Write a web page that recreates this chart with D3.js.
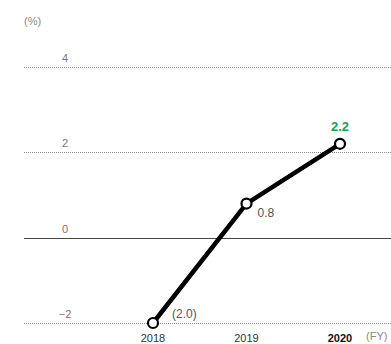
<!DOCTYPE html>
<html>
<head>
<meta charset="utf-8">
<script src="https://cdn.jsdelivr.net/npm/d3@7"></script>
<style>
  html, body { margin: 0; padding: 0; background: #fff; }
  svg { display: block; font-family: "Liberation Sans", Arial, sans-serif; }
</style>
</head>
<body>
<svg id="chart" width="391" height="344"></svg>
<script>
// Fiscal years and growth rate (%)
const years = ["2018", "2019", "2020"];
const values = [-2.0, 0.8, 2.2];
const valueLabels = ["(2.0)", "0.8", "2.2"];
const yTicks = [4, 2, 0, -2];
const yTickLabels = ["4", "2", "0", "\u22122"];

const svg = d3.select("#chart");
const W = 391;

const x = d3.scalePoint().domain(years).range([153, 340]);
const y = d3.scaleLinear().domain([-2, 4]).range([323, 67]);

// Gridlines (dotted) and the solid zero line
svg.append("g").selectAll("line")
  .data(yTicks)
  .join("line")
  .attr("x1", 24).attr("x2", W)
  .attr("y1", d => Math.round(y(d)) + 0.5)
  .attr("y2", d => Math.round(y(d)) + 0.5)
  .attr("stroke", d => d === 0 ? "#444" : "#8a8a8a")
  .attr("stroke-width", 1)
  .attr("stroke-dasharray", d => d === 0 ? null : "1,1");

// Y tick labels sit above their gridline
svg.append("g").selectAll("text")
  .data(yTicks)
  .join("text")
  .attr("x", 65)
  .attr("y", d => y(d) - 5)
  .attr("text-anchor", "middle")
  .attr("font-size", 11)
  .attr("fill", "#777")
  .text((d, i) => yTickLabels[i]);

svg.append("text")
  .attr("x", 24).attr("y", 25)
  .attr("font-size", 11)
  .attr("fill", "#888")
  .text("(%)");

// X labels
svg.append("g").selectAll("text")
  .data(years)
  .join("text")
  .attr("x", d => x(d))
  .attr("y", 342)
  .attr("text-anchor", "middle")
  .attr("font-size", 11)
  .attr("font-weight", (d, i) => i === years.length - 1 ? "bold" : "normal")
  .attr("fill", (d, i) => i === years.length - 1 ? "#111" : "#333")
  .text(d => d);

svg.append("text")
  .attr("x", 366).attr("y", 340)
  .attr("font-size", 11)
  .attr("fill", "#888")
  .text("(FY)");

// Line
const pts = years.map((yr, i) => ({ yr, v: values[i], label: valueLabels[i] }));
svg.append("path")
  .datum(pts)
  .attr("fill", "none")
  .attr("stroke", "#000")
  .attr("stroke-width", 4.5)
  .attr("stroke-linejoin", "round")
  .attr("d", d3.line().x(d => x(d.yr)).y(d => y(d.v)));

svg.append("g").selectAll("circle")
  .data(pts)
  .join("circle")
  .attr("cx", d => x(d.yr))
  .attr("cy", d => y(d.v))
  .attr("r", 5)
  .attr("fill", "#fff")
  .attr("stroke", "#000")
  .attr("stroke-width", 2.2);

// Value labels
svg.append("text")
  .attr("x", x("2018") + 19).attr("y", y(values[0]) - 5)
  .attr("font-size", 12).attr("fill", "#555")
  .text(valueLabels[0]);
svg.append("text")
  .attr("x", x("2019") + 11).attr("y", y(values[1]) + 13)
  .attr("font-size", 12).attr("fill", "#555")
  .text(valueLabels[1]);
svg.append("text")
  .attr("x", x("2020")).attr("y", y(values[2]) - 13)
  .attr("text-anchor", "middle")
  .attr("font-size", 13).attr("font-weight", "bold").attr("fill", "#1a9f50")
  .text(valueLabels[2]);
</script>
</body>
</html>
